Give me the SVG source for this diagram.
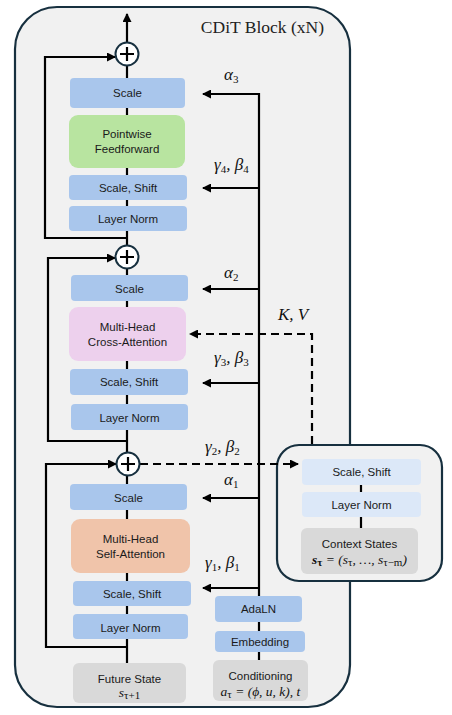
<svg xmlns="http://www.w3.org/2000/svg" width="452" height="715" viewBox="0 0 452 715">
<style>
.frame{fill:#f1f1f1;stroke:#17303f;stroke-width:2.2}
.blue{fill:#a9c6ec}
.lblue{fill:#dce8f8}
.green{fill:#b8e4a0}
.pink{fill:#edd0ed}
.orange{fill:#f0c4aa}
.gray{fill:#d9d9d9}
.lbl{font-family:"Liberation Sans",Arial,sans-serif;font-size:11.5px;fill:#1a1a1a;text-anchor:middle}
.math{font-family:"Liberation Serif","DejaVu Serif",serif;font-style:italic;font-size:17px;fill:#111}
.mathsm{font-family:"Liberation Serif","DejaVu Serif",serif;font-style:italic;font-size:13.5px;fill:#111;text-anchor:middle}
.sub{font-size:11px;font-style:normal}
.ln{stroke:#000;stroke-width:2.2;fill:none}
.dash{stroke:#000;stroke-width:2.2;fill:none;stroke-dasharray:8,5}
.plus{fill:#fff;stroke:#17303f;stroke-width:2}
</style>
<defs>
<marker id="ah" markerWidth="9" markerHeight="9" refX="8" refY="4.5" orient="auto" markerUnits="userSpaceOnUse">
<path d="M0,0 L9,4.5 L0,9 z" fill="#000"/>
</marker>
</defs>

<g id="cdit-block">
<rect class="frame" x="15" y="7" width="335" height="700" rx="42"/>
<text x="324" y="33" font-family="Liberation Serif,serif" font-size="17.5" fill="#222" text-anchor="end">CDiT Block (xN)</text>
</g>
<g id="context-block">
<rect class="frame" x="277" y="445" width="165" height="136" rx="22"/>
</g>

<g id="connectors">
<line class="ln" x1="127" y1="663" x2="127" y2="14" marker-end="url(#ah)"/>
<polyline class="ln" points="127,238 45,238 45,57 115,57" marker-end="url(#ah)"/>
<polyline class="ln" points="127,441 48,441 48,258 115,258" marker-end="url(#ah)"/>
<polyline class="ln" points="127,647 46,647 46,464 116,464" marker-end="url(#ah)"/>
<line class="ln" x1="259" y1="93" x2="259" y2="660"/>
<line class="ln" x1="260" y1="94" x2="203" y2="94" marker-end="url(#ah)"/>
<line class="ln" x1="260" y1="188" x2="203" y2="188" marker-end="url(#ah)"/>
<line class="ln" x1="260" y1="289" x2="203" y2="289" marker-end="url(#ah)"/>
<line class="ln" x1="260" y1="383" x2="203" y2="383" marker-end="url(#ah)"/>
<line class="ln" x1="260" y1="498" x2="203" y2="498" marker-end="url(#ah)"/>
<line class="ln" x1="260" y1="588" x2="203" y2="588" marker-end="url(#ah)"/>
<polyline class="dash" points="312,444 312,334 190,334" marker-end="url(#ah)"/>
<line class="dash" x1="140" y1="464" x2="298" y2="464" marker-end="url(#ah)"/>
<line class="ln" x1="361" y1="485" x2="361" y2="528"/>
<text class="math" x="224" y="80">α<tspan class="sub" dy="3">3</tspan></text>
<text class="math" x="214" y="170">γ<tspan class="sub" dy="3">4</tspan><tspan dy="-3">, β</tspan><tspan class="sub" dy="3">4</tspan></text>
<text class="math" x="224" y="278">α<tspan class="sub" dy="3">2</tspan></text>
<text class="math" x="278" y="320">K, V</text>
<text class="math" x="214" y="363">γ<tspan class="sub" dy="3">3</tspan><tspan dy="-3">, β</tspan><tspan class="sub" dy="3">3</tspan></text>
<text class="math" x="205" y="452">γ<tspan class="sub" dy="3">2</tspan><tspan dy="-3">, β</tspan><tspan class="sub" dy="3">2</tspan></text>
<text class="math" x="224" y="485">α<tspan class="sub" dy="3">1</tspan></text>
<text class="math" x="205" y="568">γ<tspan class="sub" dy="3">1</tspan><tspan dy="-3">, β</tspan><tspan class="sub" dy="3">1</tspan></text>
</g>

<g id="add-3"><circle class="plus" cx="127" cy="54" r="11.5"/><path class="ln" d="M120,54 H134 M127,47 V61"/></g>
<g id="add-2"><circle class="plus" cx="127" cy="257" r="11.5"/><path class="ln" d="M120,257 H134 M127,250 V264"/></g>
<g id="add-1"><circle class="plus" cx="128" cy="464" r="11.5"/><path class="ln" d="M121,464 H135 M128,457 V471"/></g>

<g id="scale-3"><rect class="blue" x="70" y="78" width="115" height="30" rx="4"/><text class="lbl" x="127.5" y="97">Scale</text></g>
<g id="feedforward"><rect class="green" x="69" y="115" width="116" height="53" rx="9"/><text class="lbl" x="127" y="138">Pointwise</text><text class="lbl" x="127" y="153">Feedforward</text></g>
<g id="scale-shift-4"><rect class="blue" x="69" y="175" width="118" height="25" rx="4"/><text class="lbl" x="128" y="192">Scale, Shift</text></g>
<g id="layer-norm-4"><rect class="blue" x="69" y="206" width="118" height="25" rx="4"/><text class="lbl" x="128" y="223">Layer Norm</text></g>

<g id="scale-2"><rect class="blue" x="71" y="275" width="117" height="26" rx="4"/><text class="lbl" x="129.5" y="293">Scale</text></g>
<g id="cross-attention"><rect class="pink" x="69" y="307" width="117" height="54" rx="9"/><text class="lbl" x="127.5" y="331">Multi-Head</text><text class="lbl" x="127.5" y="346">Cross-Attention</text></g>
<g id="scale-shift-3"><rect class="blue" x="70" y="369" width="118" height="26" rx="4"/><text class="lbl" x="129" y="386">Scale, Shift</text></g>
<g id="layer-norm-3"><rect class="blue" x="71" y="404" width="117" height="26" rx="4"/><text class="lbl" x="129.5" y="422">Layer Norm</text></g>

<g id="scale-1"><rect class="blue" x="70" y="484" width="117" height="26" rx="4"/><text class="lbl" x="128.5" y="502">Scale</text></g>
<g id="self-attention"><rect class="orange" x="71" y="519" width="119" height="54" rx="9"/><text class="lbl" x="130.5" y="543">Multi-Head</text><text class="lbl" x="130.5" y="558">Self-Attention</text></g>
<g id="scale-shift-1"><rect class="blue" x="73" y="581" width="118" height="25" rx="4"/><text class="lbl" x="132" y="598">Scale, Shift</text></g>
<g id="layer-norm-1"><rect class="blue" x="73" y="614" width="115" height="25" rx="4"/><text class="lbl" x="130.5" y="632">Layer Norm</text></g>
<g id="future-state"><rect class="gray" x="73" y="663" width="113" height="40" rx="6"/><text class="lbl" x="129.5" y="683">Future State</text><text class="mathsm" x="129.5" y="697">s<tspan class="sub" font-size="9" dy="2">τ+1</tspan></text></g>

<g id="adaln"><rect class="blue" x="215" y="596" width="87" height="26" rx="4"/><text class="lbl" x="258.5" y="613">AdaLN</text></g>
<g id="embedding"><rect class="blue" x="215" y="631" width="90" height="21" rx="4"/><text class="lbl" x="260" y="646">Embedding</text></g>
<g id="conditioning"><rect class="gray" x="213" y="660" width="95" height="41" rx="6"/><text class="lbl" x="260.5" y="680">Conditioning</text><text class="mathsm" x="260.5" y="696">a<tspan class="sub" font-size="9" dy="2">τ</tspan><tspan dy="-2"> = (ϕ, u, k), t</tspan></text></g>

<g id="ctx-scale-shift"><rect class="lblue" x="302" y="459" width="119" height="26" rx="4"/><text class="lbl" x="361.5" y="476">Scale, Shift</text></g>
<g id="ctx-layer-norm"><rect class="lblue" x="302" y="492" width="119" height="25" rx="4"/><text class="lbl" x="361.5" y="509">Layer Norm</text></g>
<g id="context-states"><rect class="gray" x="301" y="528" width="117" height="46" rx="6"/><text class="lbl" x="359.5" y="548">Context States</text><text class="mathsm" x="359.5" y="564"><tspan font-weight="bold">s</tspan><tspan class="sub" font-size="9" dy="2" font-weight="bold">τ</tspan><tspan dy="-2"> = (s</tspan><tspan class="sub" font-size="9" dy="2">τ</tspan><tspan dy="-2">, …, s</tspan><tspan class="sub" font-size="9" dy="2">τ−m</tspan><tspan dy="-2">)</tspan></text></g>
</svg>
